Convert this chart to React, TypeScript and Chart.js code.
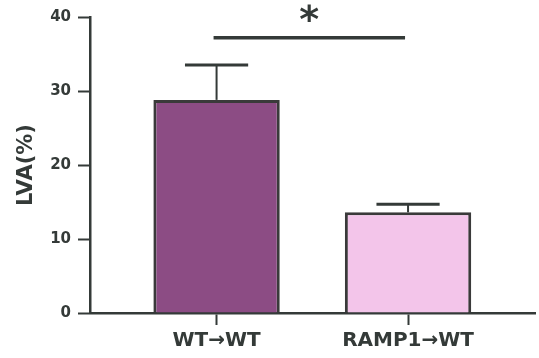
import React, { useEffect, useRef } from "react";
import { Chart, registerables } from "chart.js";

Chart.register(...registerables);

const categories = ["WT→WT", "RAMP1→WT"];
const values = [28.8, 13.6];
const errors = [4.7, 1.1];
const yTicks = [0, 10, 20, 30, 40];
const sigLevel = 37.2;
const sigLabel = "*";
const yTitle = "LVA(%)";

const INK = "#343a38";
const FONT = "'DejaVu Sans', sans-serif";

const annotations = {
  id: "annotations",
  afterDatasetsDraw(chart: any) {
    const ctx = chart.ctx;
    const meta = chart.getDatasetMeta(0);
    const y = chart.scales.y;
    ctx.save();
    ctx.strokeStyle = INK;
    ctx.lineCap = "butt";
    meta.data.forEach((bar: any, i: number) => {
      const top = y.getPixelForValue(values[i] + errors[i]);
      const w = bar.width * 0.5;
      ctx.lineWidth = 2;
      ctx.beginPath();
      ctx.moveTo(bar.x, bar.y);
      ctx.lineTo(bar.x, top);
      ctx.stroke();
      ctx.lineWidth = 3;
      ctx.beginPath();
      ctx.moveTo(bar.x - w / 2, top);
      ctx.lineTo(bar.x + w / 2, top);
      ctx.stroke();
    });
    const b0 = meta.data[0];
    const b1 = meta.data[1];
    const sy = y.getPixelForValue(sigLevel);
    ctx.lineWidth = 3.5;
    ctx.beginPath();
    ctx.moveTo(b0.x - 3, sy);
    ctx.lineTo(b1.x - 3, sy);
    ctx.stroke();
    ctx.fillStyle = INK;
    ctx.font = `bold 38px ${FONT}`;
    ctx.textAlign = "center";
    ctx.textBaseline = "middle";
    ctx.fillText(sigLabel, (b0.x + b1.x) / 2 - 3, sy - 16);
    ctx.restore();
  },
};

export default function App() {
  const ref = useRef<HTMLCanvasElement>(null);
  useEffect(() => {
    if (!ref.current) return;
    const chart = new Chart(ref.current, {
      type: "bar",
      data: {
        datasets: [
          {
            data: values.map((v, i) => ({ x: i + 1, y: v })),
            backgroundColor: ["#8c4c84", "#f3c5ea"],
            borderColor: "#3a3a3a",
            borderWidth: 3,
            barPercentage: 0.66,
            categoryPercentage: 1,
          },
        ],
      },
      options: {
        animation: false,
        responsive: true,
        maintainAspectRatio: false,
        layout: { padding: { top: 17, right: 4, left: 0, bottom: 0 } },
        plugins: { legend: { display: false }, tooltip: { enabled: false } },
        scales: {
          x: {
            type: "linear",
            offset: false,
            min: 0.339,
            max: 2.663,
            afterBuildTicks: (s: any) => {
              s.ticks = categories.map((_, i) => ({ value: i + 1 }));
            },
            afterFit: (s: any) => {
              s.height = 45;
            },
            border: { display: true, color: INK, width: 2.5 },
            grid: {
              offset: false,
              drawOnChartArea: false,
              drawTicks: true,
              tickLength: 12,
              tickWidth: 2,
              tickColor: INK,
            },
            ticks: {
              autoSkip: false,
              maxRotation: 0,
              padding: 4,
              color: INK,
              font: { family: FONT, weight: "bold", size: 20 },
              callback: (v: any) => categories[Math.round(v) - 1] ?? "",
            },
          },
          y: {
            min: 0,
            max: 40,
            afterBuildTicks: (s: any) => {
              s.ticks = yTicks.map((v) => ({ value: v }));
            },
            afterFit: (s: any) => {
              s.width = 90;
            },
            border: { display: true, color: INK, width: 2.5 },
            grid: {
              drawOnChartArea: false,
              drawTicks: true,
              tickLength: 12,
              tickWidth: 2,
              tickColor: INK,
            },
            ticks: {
              padding: 7,
              color: INK,
              font: { family: FONT, weight: "bold", size: 15 },
            },
            title: {
              display: true,
              text: yTitle,
              color: INK,
              padding: { top: 14, bottom: 4 },
              font: { family: FONT, weight: "bold", size: 21 },
            },
          },
        },
      },
      plugins: [annotations],
    });
    return () => chart.destroy();
  }, []);
  return (
    <div style={{ position: "absolute", left: 0, top: 0, width: 539, height: 358 }}>
      <canvas ref={ref} />
    </div>
  );
}
